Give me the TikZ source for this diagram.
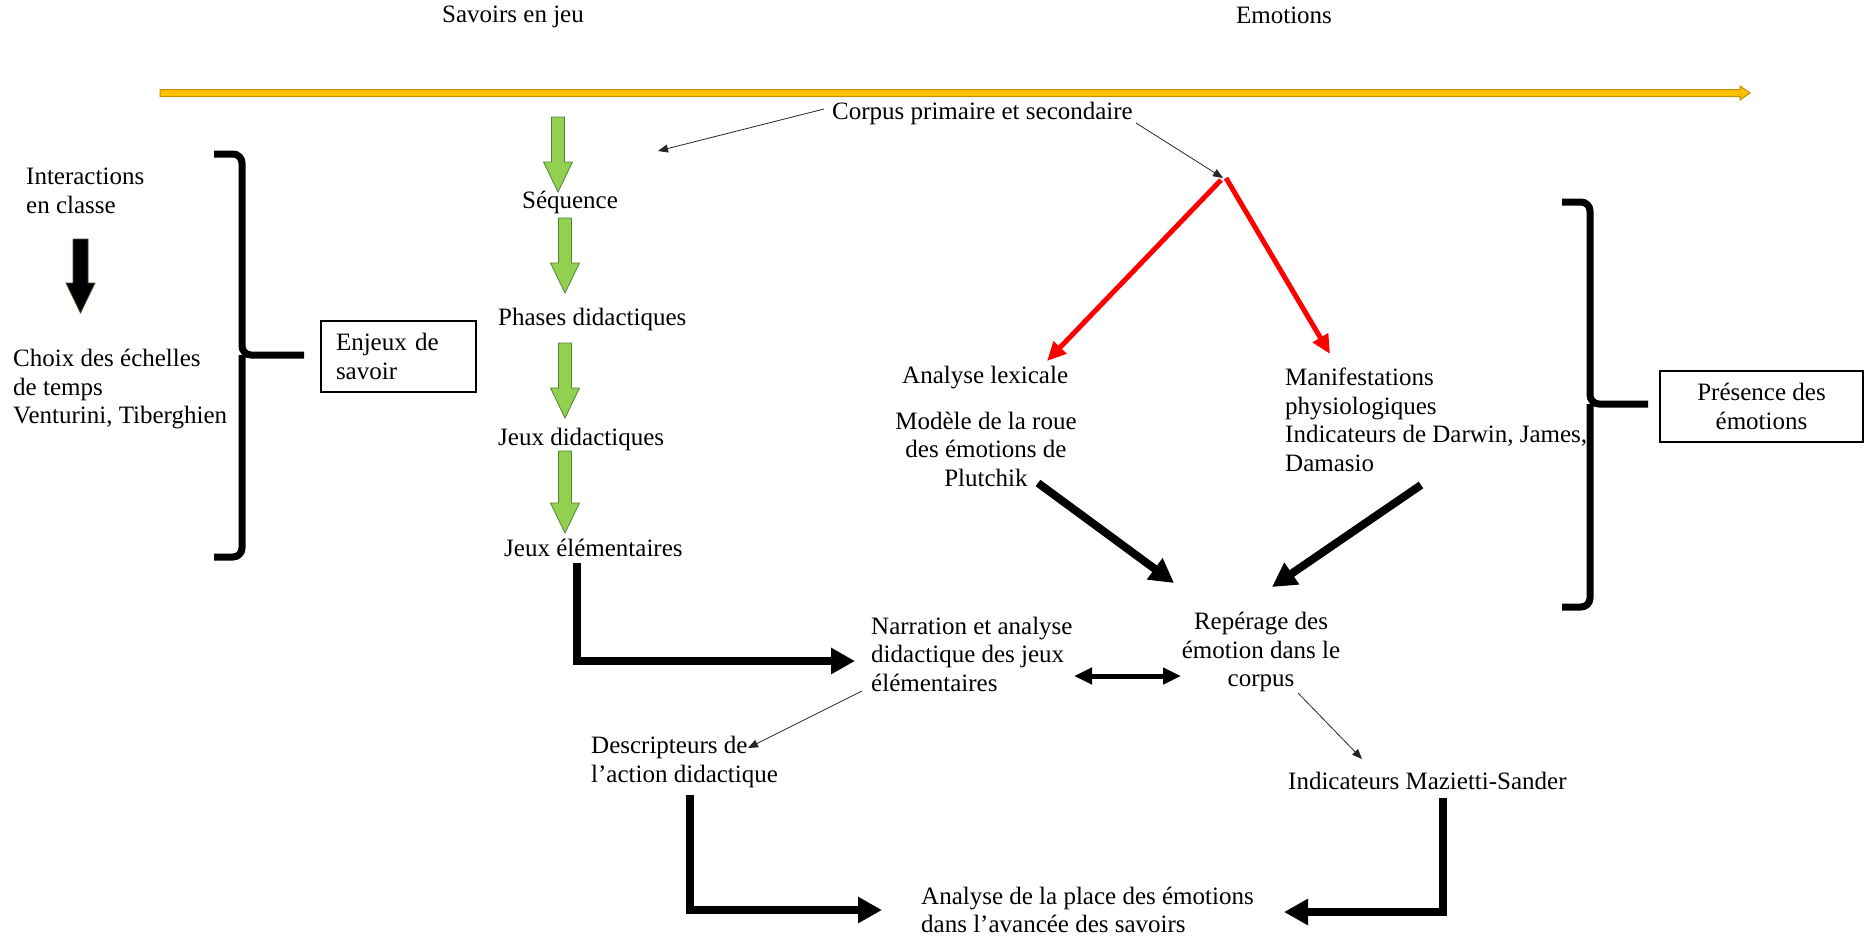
\documentclass[tikz,border=0pt]{standalone}
\usepackage{fontspec}
\setmainfont{Liberation Serif}
\usepackage{xcolor}
\usetikzlibrary{arrows.meta,calc,positioning}

\definecolor{axisfill}{HTML}{FFC000}
\definecolor{axisdraw}{HTML}{BF9000}
\definecolor{greenfill}{HTML}{92D050}
\definecolor{greendraw}{HTML}{548235}
\definecolor{darkgreen}{HTML}{385723}
\definecolor{redline}{HTML}{FF0000}

\newcommand{\lbfont}{\fontsize{25}{28.5}\selectfont}

\tikzset{
    lbl/.style={inner sep=0pt, font=\lbfont},
    boxlbl/.style={draw, line width=1.6pt, font=\lbfont},
    bracket/.style={line width=7pt, rounded corners=9pt},
    thin/.style={black!85, line width=0.8pt, -{Triangle[length=10pt,width=8pt]}},
    bigarrow/.style={line width=8pt, -{Triangle[length=24pt,width=25pt]}},
    redarrow/.style={redline, line width=5pt, -{Triangle[length=19pt,width=17pt]}},
    greenarr/.style={fill=greenfill, draw=greendraw, line width=0.8pt},
}

\begin{document}
\begin{tikzpicture}[x=1pt,y=-1pt]
    \useasboundingbox (0,0) rectangle (1865,938);

    % Titles and axis
    \node[lbl] (savoirs) at (513,17) {Savoirs en jeu};
    \node[lbl] (emotions) at (1284,15) {Emotions};
    \coordinate (axisL) at (160,93);
    \coordinate (axisR) at (1750,93);
    \filldraw[fill=axisfill, draw=axisdraw, line width=1pt]
        (axisL) ++(0,-3.5) -- (1740,89.5) -- (1740,86) -- (axisR)
        -- (1740,100) -- (1740,96.5) -- (160,96.5) -- cycle;

    % Left column
    \node[lbl, align=left, anchor=west] (interac) at (26,191) {Interactions\\en classe};
    \filldraw[fill=black, draw=darkgreen, line width=0.8pt]
        (73,239) -- (88,239) -- (88,283) -- (95,283) -- (80.5,313)
        -- (66,283) -- (73,283) -- cycle;
    \node[lbl, align=left, anchor=west] (choix) at (13,389)
        {Choix des échelles\\de temps\\Venturini, Tiberghien};

    \draw[bracket] (214,154) -| (242,355) -- (304,355);
    \draw[bracket] (214,557) -| (242,355);

    \node[boxlbl, minimum width=155pt, minimum height=71pt, text width=125pt,
          align=left, inner xsep=15pt] (enjeux) at (398.5,356.5) {Enjeux de\\savoir};

    % Savoirs column
    \node[lbl] (sequence) at (570,202) {Séquence};
    \node[lbl, anchor=west] (phases) at (498,319) {Phases didactiques};
    \node[lbl, anchor=west] (jeuxdid) at (498,439) {Jeux didactiques};
    \node[lbl, anchor=west] (jeuxelem) at (504,548) {Jeux élémentaires};
    \foreach \x/\ya/\yb in {558/117/192, 565/218/293, 565/343/418, 565/451/533}
        \filldraw[greenarr] (\x-6.5,\ya) -- (\x+6.5,\ya) -- (\x+6.5,\yb-30)
            -- (\x+14.5,\yb-30) -- (\x,\yb) -- (\x-14.5,\yb-30)
            -- (\x-6.5,\yb-30) -- cycle;

    % Corpus and emotions branch
    \node[lbl, anchor=west] (corpus) at (832,113) {Corpus primaire et secondaire};
    \coordinate (corpusL) at (824,109);
    \coordinate (corpusR) at (1136,123);
    \coordinate (seqtip) at (658,151);
    \coordinate (apex) at (1223,178);
    \draw[thin] (corpusL) -- (seqtip);
    \draw[thin] (corpusR) -- (apex);

    \node[lbl, anchor=west] (lexic) at (902,378) {Analyse lexicale};
    \node[lbl, align=center] (modele) at (986,449)
        {Modèle de la roue\\des émotions de\\Plutchik};
    \node[lbl, align=left, anchor=west] (manif) at (1285,420)
        {Manifestations\\physiologiques\\Indicateurs de Darwin, James,\\Damasio};
    \coordinate (lexictip) at (1047,361);
    \coordinate (maniftip) at (1330,354);
    \draw[redarrow] (apex) ++(-2,2) -- (lexictip);
    \draw[redarrow] (apex) ++(3,0) -- (maniftip);

    \draw[bracket] (1562,202) -| (1590,404) -- (1648,404);
    \draw[bracket] (1562,607) -| (1590,404);
    \node[boxlbl, minimum width=203pt, minimum height=71pt, align=center]
        (presence) at (1761.5,406.5) {Présence des\\émotions};

    % Lower part
    \node[lbl, align=left, anchor=west] (narration) at (871,654)
        {Narration et analyse\\didactique des jeux\\élémentaires};
    \node[lbl, align=center] (reperage) at (1261,652)
        {Repérage des\\émotion dans le\\corpus};
    \node[lbl, align=left, anchor=west] (descr) at (591,762)
        {Descripteurs de\\l’action didactique};
    \node[lbl, anchor=west] (mazietti) at (1288,781) {Indicateurs Mazietti-Sander};
    \node[lbl, align=left, anchor=west] (analyse) at (921,910)
        {Analyse de la place des émotions\\dans l’avancée des savoirs};

    \coordinate (plutout) at (1038,483);
    \coordinate (darwout) at (1421,485);
    \coordinate (repL) at (1174,583);
    \coordinate (repR) at (1272,587);
    \draw[bigarrow] (plutout) -- (repL);
    \draw[bigarrow] (darwout) -- (repR);

    \coordinate (jeuxdn) at (577,563);
    \draw[bigarrow, shorten >=16pt] (jeuxdn) |- ([yshift=-7pt]narration.west);

    \coordinate (narrR) at (1074,676);
    \coordinate (repW) at (1181,676);
    \draw[line width=5pt, {Triangle[length=18pt,width=16pt]}-{Triangle[length=18pt,width=16pt]}]
        (narrR) -- (repW);

    \coordinate (narrdn) at (862,691);
    \coordinate (descrtip) at (748,748);
    \draw[thin] (narrdn) -- (descrtip);
    \coordinate (repdn) at (1298,693);
    \coordinate (maztip) at (1362,759);
    \draw[thin] (repdn) -- (maztip);

    \coordinate (descrdn) at (690,795);
    \draw[bigarrow, shorten >=39pt] (descrdn) |- (analyse.west);
    \coordinate (mazdn) at (1443,798);
    \coordinate (analyseR) at (1284,912);
    \draw[bigarrow] (mazdn) |- (analyseR);
\end{tikzpicture}
\end{document}
